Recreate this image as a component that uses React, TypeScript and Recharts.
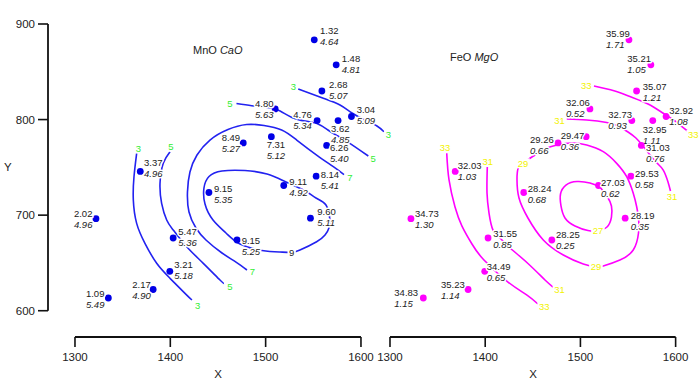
import React from 'react'
import { ComposedChart, Line, Scatter, XAxis, YAxis, ReferenceLine } from 'recharts'

const FONT = '"Liberation Sans", Arial, Helvetica, sans-serif'

// sample locations, shared by both panels
const sampleX = [1551, 1574, 1559, 1510, 1554, 1576, 1564, 1590, 1506, 1476.5, 1368.5, 1553, 1519, 1440.5, 1547, 1470, 1322, 1403, 1399.5, 1382, 1335]
const sampleY = [883.4, 857.3, 829.9, 811.1, 799, 798.9, 772.9, 803.2, 782.1, 775.6, 745.7, 740.8, 731, 723.7, 696.8, 674, 696.3, 676.1, 641.2, 622.2, 613.3]

const mnoValues = ['1.32', '1.48', '2.68', '4.80', '4.76', '3.62', '6.26', '3.04', '7.31', '8.49', '3.37', '8.14', '9.11', '9.15', '9.60', '9.15', '2.02', '5.47', '3.21', '2.17', '1.09']
const caoValues = ['4.64', '4.81', '5.07', '5.63', '5.34', '4.85', '5.40', '5.09', '5.12', '5.27', '4.96', '5.41', '4.92', '5.35', '5.11', '5.25', '4.96', '5.36', '5.18', '4.90', '5.49']
const feoValues = ['35.99', '35.21', '35.07', '32.06', '32.73', '32.95', '31.03', '32.92', '29.47', '29.26', '32.03', '29.53', '27.03', '28.24', '28.19', '28.25', '34.73', '31.55', '34.49', '35.23', '34.83']
const mgoValues = ['1.71', '1.05', '1.21', '0.52', '0.93', '1.11', '0.76', '1.08', '0.36', '0.66', '1.03', '0.58', '0.62', '0.68', '0.35', '0.25', '1.30', '0.85', '0.65', '1.14', '1.15']

const xTicks = [1300, 1400, 1500, 1600]
const yTicks = [600, 700, 800, 900]
const yDomain: [number, number] = [572.5, 900]

// MnO contours, [x, y]
const mn3a: [number, number][] = [[1364.7, 764.7], [1361.9, 740.2], [1361.2, 715.8], [1364.7, 691.4], [1373.4, 670.5], [1385.7, 649.6], [1399.7, 633.9], [1415.4, 618.2], [1422.7, 611.2]]
const mn5a: [number, number][] = [[1399.7, 766.4], [1392.6, 754.2], [1389.2, 733.3], [1390.9, 712.4], [1396.2, 694.9], [1403.1, 684.4], [1417.2, 667], [1434.6, 649.6], [1452.1, 632.1], [1456.3, 628.5]]
const mn7: [number, number][] = [[1582.2, 742.5], [1571, 750.7], [1553.5, 762.9], [1532.6, 778.6], [1516.8, 789.1], [1498.3, 793.8], [1480.1, 794.8], [1460.5, 789.6], [1441.6, 778.6], [1428, 762.9], [1420.6, 745.1], [1418, 724.2], [1419.6, 703.3], [1426.9, 686.5], [1437.4, 674], [1454.2, 660.4], [1468.9, 650.9], [1480.4, 642.6]]
const mn9: [number, number][] = [[1567.5, 694.9], [1563.3, 710.6], [1552.8, 717.9], [1543, 724.5], [1530.8, 730.5], [1519.2, 735.7], [1501.4, 743], [1478.3, 746.7], [1454.2, 746.2], [1440.6, 740.4], [1435.3, 728.4], [1436.4, 711.6], [1444.8, 694.9], [1458.4, 681.3], [1473.1, 669.8], [1496.2, 663], [1515, 661.4], [1527.3, 661.1], [1536, 663.5], [1553.5, 672.2], [1562.3, 679.2], [1566.4, 686.5], [1567.5, 694.9]]
const mn5b: [number, number][] = [[1469.4, 816.8], [1485.4, 814.5], [1499.3, 813.1], [1511.9, 810.5], [1527.6, 802.2], [1541.3, 798.5], [1554.9, 795.4], [1565.4, 789.1], [1573.8, 783.8], [1586.7, 776.2], [1607.7, 761.9]]
const mn3b: [number, number][] = [[1534.2, 832], [1560.5, 822.3], [1578, 815.2], [1590.6, 806.9], [1604.2, 799.5], [1616.8, 793.3], [1624.1, 787.3]]
const mnLevelLabels: [string, number, number][] = [
  ['3', 1366.4, 769.9], ['3', 1428.7, 605.9], ['5', 1400.7, 771.6], ['5', 1462.6, 625.1],
  ['7', 1588.5, 739.4], ['7', 1486.2, 640.8], ['9', 1527.3, 661.1], ['5', 1462.6, 817],
  ['5', 1612.9, 759.5], ['3', 1529, 834.4], ['3', 1628.7, 783.9],
]

// FeO contours, [x, y]
const fe33a: [number, number][] = [[1359.6, 764.7], [1362, 736.8], [1368.3, 708.5], [1375.6, 688.6], [1386.1, 669.8], [1398.7, 653], [1423.9, 630], [1443.9, 616.4], [1455.4, 607]]
const fe31a: [number, number][] = [[1402.2, 750.4], [1401.9, 723.2], [1404, 702.2], [1408.2, 684.4], [1415.5, 676.1], [1425, 666.7], [1444.9, 649.4], [1462.8, 632.1], [1471.2, 624.8]]
const fe29: [number, number][] = [[1439.7, 754.2], [1447, 759.5], [1452.3, 762.9], [1462.8, 769.2], [1475.4, 773.4], [1491.1, 775.5], [1506.6, 773.4], [1524, 766.4], [1538.1, 754.2], [1548.6, 740.2], [1555.5, 722.8], [1559.1, 708.8], [1561, 697], [1561, 681.3], [1555.5, 663.5], [1541.5, 653], [1524, 646.8], [1516.3, 646], [1503, 648.9], [1482, 658.3], [1461, 674], [1444.9, 697], [1435.5, 717.9], [1433.4, 736.8], [1434.7, 749.3], [1439.7, 754.2]]
const fe27: [number, number][] = [[1520.5, 729.4], [1510, 733.6], [1496.4, 735.2], [1484.8, 731.5], [1479.1, 722.1], [1479.6, 709.6], [1483.8, 697], [1494.3, 688.6], [1507.9, 683.9], [1518.4, 683.7], [1527.9, 687.6], [1532.6, 698], [1532.6, 709.6], [1528.4, 719], [1520.5, 729.4]]
const fe31b: [number, number][] = [[1485.6, 800.6], [1506.6, 799.5], [1527.6, 796.9], [1539.4, 793.3], [1550, 787], [1558.3, 780.7], [1565.7, 772.3], [1573.1, 762.9], [1580.4, 754.5], [1587, 747.2], [1592, 734.7], [1594.6, 725.3]]
const fe33b: [number, number][] = [[1514.2, 835.1], [1535.2, 830.2], [1552, 824.1], [1571, 816.3], [1585.7, 807.4], [1596.2, 800.6], [1608, 791.7], [1614.5, 786.5]]
const feLevelLabels: [string, number, number][] = [
  ['33', 1357.8, 770.6], ['33', 1462, 604.2], ['31', 1402.7, 756.6], ['31', 1478, 622.4],
  ['29', 1439.7, 754.2], ['29', 1516.3, 646], ['27', 1518.4, 683.7], ['31', 1478, 799.2],
  ['31', 1596.2, 719], ['33', 1506.2, 836], ['33', 1618.5, 783.9],
]

// where each value label sits relative to its dot (px)
const mnLabelOffsets = [[5.7, -5.6], [5.5, -3.1], [7.1, -3.3], [-20.2, -2.3], [-23.8, -2.2], [-7.1, 11.1], [3.3, 5.2], [5.2, -3.2], [-4.7, 11.6], [-21.6, -1.9], [3.7, -5.5], [4.5, 2.2], [5.5, -0.5], [5, -0.8], [6.8, -3.2], [4.6, 4], [-22, -1.4], [5.1, -3], [4.4, -3], [-20.9, -1.2], [-22.4, -0.7]]
const feLabelOffsets = [[-23, -2.6], [-23.6, -3.1], [6.1, -1], [-24, -3], [-23.6, -2.2], [-10.1, 12.1], [4.6, 5.2], [3.2, -2.5], [-25.5, 2.6], [-28.1, 0.4], [2.5, -2.5], [4.1, 0.6], [2.5, 0.2], [3.9, -0.8], [5.5, 0.8], [4.1, -1.7], [4.1, -1.4], [5.2, -0.7], [2, -1.3], [-27.1, -1.2], [-29, -2]]

const AXIS = '#111'
const TEXT = '#222'

function SamplePoint(props: any) {
  const { cx, cy, payload, color, offsets } = props
  const [dx, dy] = offsets[payload.i]
  const halo = { stroke: '#fff', strokeWidth: 3, paintOrder: 'stroke' as const, strokeLinejoin: 'round' as const }
  return (
    <g>
      <circle cx={cx} cy={cy} r={3.4} fill={color} />
      <text x={cx + dx} y={cy + dy} fontSize={9.5} fill={TEXT} fontFamily={FONT} {...halo}>{payload.top}</text>
      <text x={cx + dx} y={cy + dy + 11} fontSize={9.5} fill={TEXT} fontFamily={FONT} fontStyle="italic" {...halo}>{payload.bottom}</text>
    </g>
  )
}

function LevelLabel(props: any) {
  const { cx, cy, payload, colorFor } = props
  const w = payload.t.length * 5.3 + 3
  return (
    <g>
      <rect x={cx - w / 2} y={cy - 5} width={w} height={10} fill="#fff" />
      <text x={cx} y={cy} textAnchor="middle" dominantBaseline="central" fontSize={9.5} fontFamily={FONT} fill={colorFor(payload.t)}>{payload.t}</text>
    </g>
  )
}

type PanelProps = {
  left: number
  width: number
  xDomain: [number, number]
  showY: boolean
  first: string[]
  second: string[]
  offsets: number[][]
  contours: [number, number][][]
  levelLabels: [string, number, number][]
  dotColor: string
  lineColor: string
  colorFor: (t: string) => string
  xLabelShift: number
}

function Panel(p: PanelProps) {
  const points = sampleX.map((x, i) => ({ x, y: sampleY[i], top: p.first[i], bottom: p.second[i], i }))
  const levels = p.levelLabels.map(([t, x, y]) => ({ x, y, t }))
  const tickStyle = { fill: TEXT, fontSize: 11.5, fontFamily: FONT }
  return (
    <div style={{ position: 'absolute', left: p.left, top: 0 }}>
      <ComposedChart width={p.width} height={392} margin={{ top: 24, right: 0, bottom: 15, left: 0 }}>
        <XAxis
          type="number"
          dataKey="x"
          domain={p.xDomain}
          ticks={xTicks}
          interval={0}
          height={40}
          axisLine={false}
          tickSize={10}
          tickMargin={6}
          tickLine={{ stroke: AXIS, strokeWidth: 1.6 }}
          tick={tickStyle}
          label={{ value: 'X', position: 'insideBottom', offset: -1, dx: p.xLabelShift, fill: TEXT, fontSize: 11.5, fontFamily: FONT }}
        />
        <YAxis
          type="number"
          dataKey="y"
          domain={yDomain}
          ticks={yTicks}
          interval={0}
          hide={!p.showY}
          width={48}
          axisLine={false}
          tickSize={10}
          tickMargin={3}
          tickLine={{ stroke: AXIS, strokeWidth: 1.6 }}
          tick={tickStyle}
          label={{ value: 'Y', position: 'insideLeft', offset: 4, dy: -13.5, fill: TEXT, fontSize: 11.5, fontFamily: FONT }}
        />
        {p.showY && (
          <ReferenceLine
            segment={[{ x: p.xDomain[0], y: yTicks[0] }, { x: p.xDomain[0], y: yTicks[yTicks.length - 1] }]}
            stroke={AXIS}
            strokeWidth={1.8}
            ifOverflow="visible"
          />
        )}
        <ReferenceLine
          segment={[{ x: xTicks[0], y: yDomain[0] }, { x: xTicks[xTicks.length - 1], y: yDomain[0] }]}
          stroke={AXIS}
          strokeWidth={1.8}
          ifOverflow="visible"
        />
        {p.contours.map((c, k) => (
          <Line
            key={k}
            data={c.map(([x, y]) => ({ x, y }))}
            dataKey="y"
            type="natural"
            stroke={p.lineColor}
            strokeWidth={1.6}
            dot={false}
            activeDot={false}
            isAnimationActive={false}
          />
        ))}
        <Scatter
          data={points}
          isAnimationActive={false}
          shape={(s: any) => <SamplePoint {...s} color={p.dotColor} offsets={p.offsets} />}
        />
        <Scatter
          data={levels}
          isAnimationActive={false}
          shape={(s: any) => <LevelLabel {...s} colorFor={p.colorFor} />}
        />
      </ComposedChart>
    </div>
  )
}

export default function App() {
  const titleStyle = { position: 'absolute' as const, fontSize: 11, lineHeight: '11px', fontFamily: FONT, color: TEXT, whiteSpace: 'nowrap' as const }
  return (
    <div style={{ position: 'absolute', left: 0, top: 0, width: 700, height: 392, background: '#fff', fontFamily: FONT }}>
      <Panel
        left={0}
        width={395}
        xDomain={[1271.7, 1635.7]}
        showY
        first={mnoValues}
        second={caoValues}
        offsets={mnLabelOffsets}
        contours={[mn3a, mn5a, mn7, mn9, mn5b, mn3b]}
        levelLabels={mnLevelLabels}
        dotColor="#0000e6"
        lineColor="#2222f0"
        colorFor={(t) => (t === '9' ? TEXT : '#33ee33')}
        xLabelShift={-3.5}
      />
      <Panel
        left={360}
        width={340}
        xDomain={[1268.5, 1625.6]}
        showY={false}
        first={feoValues}
        second={mgoValues}
        offsets={feLabelOffsets}
        contours={[fe33a, fe31a, fe29, fe27, fe31b, fe33b]}
        levelLabels={feLevelLabels}
        dotColor="#ff00ff"
        lineColor="#ff00ff"
        colorFor={() => '#f2f200'}
        xLabelShift={3}
      />
      <div style={{ ...titleStyle, left: 193, top: 45 }}>
        MnO <i>CaO</i>
      </div>
      <div style={{ ...titleStyle, left: 450, top: 52 }}>
        FeO <i>MgO</i>
      </div>
    </div>
  )
}
